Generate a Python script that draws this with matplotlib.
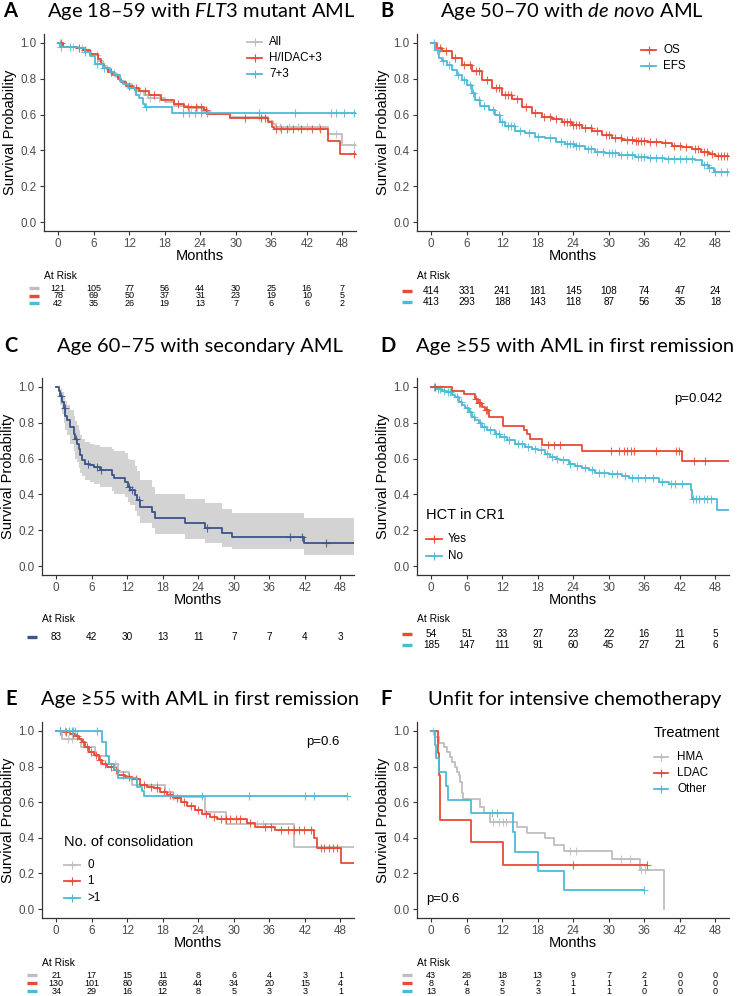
import numpy as np
import matplotlib
matplotlib.use('Agg')
import matplotlib.pyplot as plt
from matplotlib.lines import Line2D
from matplotlib import transforms

plt.rcParams['font.family'] = ['Liberation Sans', 'DejaVu Sans']
plt.rcParams['mathtext.fontset'] = 'custom'
plt.rcParams['mathtext.rm'] = 'Lato'
plt.rcParams['mathtext.it'] = 'Lato:italic'

RED = '#E64B35'
BLUE = '#4DBBD5'
GREY = '#BEBEBE'
NAVY = '#3C5488'

months = [0, 6, 12, 18, 24, 30, 36, 42, 48]

# ---- A: FLT3 mutant, age 18-59
a_all_t = [0, 0.8, 3.0, 4.5, 5.5, 6.8, 7.5, 8.2, 9.0, 9.8, 10.5, 11.2, 12.5, 13.5, 14.5, 15.2, 18.0, 19.5, 22.0, 24.5, 25.5, 29.0, 35.5, 36.2, 36.8, 45.5, 48.0]
a_all_s = [1.0, 0.98, 0.97, 0.955, 0.93, 0.90, 0.87, 0.85, 0.83, 0.81, 0.79, 0.77, 0.75, 0.73, 0.71, 0.69, 0.67, 0.65, 0.635, 0.62, 0.605, 0.585, 0.565, 0.545, 0.53, 0.49, 0.43]
a_all_c = [0.3, 2.5, 4.0, 6.5, 9.5, 12.8, 13.8, 15.5, 17.0, 21.0, 22.5, 23.5, 25.2, 34.0, 37.5, 39.0, 40.5, 42.0, 44.0, 47.0, 50.0]
a_hidac_t = [0, 0.84, 3.1, 4.2, 5.3, 6.7, 7.3, 7.8, 8.4, 9.2, 10.1, 10.6, 11.5, 12.6, 13.7, 15.4, 17.3, 19.6, 21.3, 24.6, 25.2, 29.1, 35.4, 36.1, 36.4, 45.5, 47.6]
a_hidac_s = [1.0, 0.98, 0.97, 0.96, 0.94, 0.91, 0.88, 0.86, 0.84, 0.82, 0.80, 0.78, 0.76, 0.75, 0.73, 0.71, 0.68, 0.66, 0.645, 0.626, 0.604, 0.583, 0.56, 0.533, 0.52, 0.45, 0.378]
a_hidac_c = [0.4, 3.5, 4.6, 9.0, 12.0, 13.2, 14.6, 16.2, 20.2, 22.0, 23.2, 24.2, 25.0, 31.5, 34.2, 35.0, 36.8, 37.6, 38.6, 39.6, 41.0, 42.8, 44.2, 50.0]
a_73_t = [0, 0.3, 3.3, 4.5, 5.3, 6.2, 7.6, 8.7, 9.5, 10.4, 10.9, 11.8, 12.9, 13.2, 13.7, 14.3, 14.6, 19.3]
a_73_s = [1.0, 0.98, 0.97, 0.95, 0.925, 0.88, 0.86, 0.84, 0.82, 0.79, 0.77, 0.75, 0.74, 0.71, 0.69, 0.66, 0.645, 0.61]
a_73_c = [0.4, 2.0, 4.6, 6.6, 7.8, 14.8, 21.0, 22.1, 23.1, 24.1, 25.2, 34.0, 40.0, 46.0, 47.0, 48.2, 50.0]
a_risk = [[121, 105, 77, 56, 44, 30, 25, 16, 7],
          [78, 69, 50, 37, 31, 23, 19, 10, 5],
          [42, 35, 26, 19, 13, 7, 6, 6, 2]]

# ---- B: de novo, age 50-70
b_os_t = [0, 0.96, 1.8, 3.5, 5.2, 6.9, 8.6, 10.3, 11.9, 13.6, 15.3, 17.0, 18.7, 20.4, 22.1, 23.8, 25.5, 27.2, 28.8, 30.5, 32.2, 34.5, 36.7, 39.0, 40.7, 42.4, 44.1, 45.5, 46.9, 48.0]
b_os_s = [1.0, 0.97, 0.953, 0.916, 0.879, 0.841, 0.794, 0.748, 0.71, 0.686, 0.645, 0.607, 0.589, 0.574, 0.561, 0.542, 0.523, 0.508, 0.486, 0.471, 0.458, 0.454, 0.449, 0.439, 0.424, 0.421, 0.406, 0.393, 0.379, 0.368]
b_os_c = [1.5, 2.5, 4.0, 5.5, 6.5, 7.5, 8.0, 9.5, 11.0, 11.5, 12.5, 13.0, 13.5, 14.5, 16.0, 17.5, 19.0, 20.0, 21.0, 22.5, 23.0, 23.5, 24.0, 24.5, 25.0, 26.0, 27.0, 28.0, 29.5, 30.0, 31.0, 32.0, 33.0, 34.0, 34.6, 35.0, 35.5, 36.0, 37.0, 38.0, 39.5, 41.0, 42.0, 43.0, 44.5, 45.0, 46.0, 46.5, 47.5, 48.5, 49.0, 49.5, 50.0]
b_efs_t = [0, 0.68, 1.24, 1.8, 2.65, 3.5, 4.34, 5.18, 6.03, 6.87, 7.44, 8.28, 9.69, 10.8, 11.7, 12.5, 14.2, 15.9, 17.6, 19.3, 21.0, 22.6, 24.3, 26.0, 27.7, 29.4, 31.7, 34.5, 36.7, 39.5, 44.6, 45.7, 46.9, 47.7]
b_efs_s = [1.0, 0.963, 0.916, 0.897, 0.879, 0.85, 0.822, 0.794, 0.766, 0.72, 0.682, 0.649, 0.626, 0.598, 0.561, 0.536, 0.508, 0.495, 0.477, 0.467, 0.449, 0.436, 0.424, 0.406, 0.393, 0.383, 0.374, 0.364, 0.355, 0.35, 0.346, 0.318, 0.299, 0.28]
b_efs_c = [0.5, 1.0, 2.0, 3.0, 4.5, 5.5, 6.5, 7.0, 8.0, 9.0, 10.5, 11.5, 12.0, 13.0, 13.5, 14.0, 15.0, 16.5, 18.0, 20.0, 22.0, 23.0, 23.5, 24.0, 24.5, 25.0, 26.5, 27.0, 28.0, 29.0, 30.0, 30.5, 31.0, 32.0, 33.0, 34.0, 35.0, 35.5, 36.0, 37.0, 38.0, 39.0, 40.0, 41.0, 42.0, 43.0, 44.0, 46.0, 46.5, 47.0, 48.0, 49.0, 50.0]
b_risk = [[414, 331, 241, 181, 145, 108, 74, 47, 24],
          [413, 293, 188, 143, 118, 87, 56, 35, 18]]

# ---- C: secondary AML, age 60-75
c_t = [0, 0.39, 0.68, 0.96, 1.24, 1.52, 1.8, 2.37, 2.93, 3.21, 3.49, 3.77, 4.06, 4.34, 4.9, 5.75, 6.3, 7.44, 9.4, 9.7, 11.66, 12.2, 12.5, 13.35, 13.6, 14.2, 16.2, 16.7, 21.8, 25.2, 28.0, 29.7, 41.8]
c_s = [1.0, 0.98, 0.95, 0.916, 0.88, 0.84, 0.814, 0.777, 0.74, 0.712, 0.684, 0.656, 0.619, 0.591, 0.572, 0.563, 0.554, 0.535, 0.51, 0.489, 0.47, 0.442, 0.424, 0.396, 0.368, 0.331, 0.303, 0.266, 0.238, 0.21, 0.186, 0.164, 0.13]
c_lo = [1.0, 0.95, 0.9, 0.85, 0.8, 0.76, 0.73, 0.68, 0.64, 0.6, 0.58, 0.55, 0.52, 0.5, 0.48, 0.47, 0.46, 0.44, 0.42, 0.405, 0.385, 0.36, 0.34, 0.31, 0.28, 0.24, 0.21, 0.18, 0.15, 0.126, 0.108, 0.093, 0.061]
c_hi = [1.0, 1.0, 0.99, 0.97, 0.95, 0.92, 0.9, 0.87, 0.84, 0.81, 0.79, 0.76, 0.73, 0.71, 0.69, 0.68, 0.675, 0.665, 0.655, 0.645, 0.63, 0.6, 0.59, 0.56, 0.53, 0.48, 0.44, 0.405, 0.377, 0.35, 0.32, 0.297, 0.27]
c_c = [0.85, 1.5, 3.3, 5.3, 6.9, 7.5, 12.3, 12.8, 13.9, 25.5, 39.5, 41.5, 45.5]
c_risk = [[83, 42, 30, 13, 11, 7, 7, 4, 3]]

# ---- D: first remission, HCT in CR1
d_yes_t = [0, 3.5, 5.6, 7.4, 7.9, 8.5, 9.1, 9.7, 12.2, 15.6, 16.2, 16.7, 18.7, 25.4, 42.3]
d_yes_s = [1.0, 0.98, 0.96, 0.935, 0.91, 0.89, 0.87, 0.83, 0.78, 0.76, 0.74, 0.71, 0.675, 0.645, 0.585]
d_yes_c = [0.7, 7.6, 8.0, 8.3, 9.2, 9.5, 19.7, 20.8, 21.7, 30.3, 31.7, 32.6, 33.1, 33.7, 34.3, 37.9, 41.3, 41.9, 44.4, 46.2]
d_no_t = [0, 0.96, 1.8, 2.65, 3.5, 4.06, 4.62, 5.18, 5.75, 6.3, 6.87, 7.44, 8.0, 8.56, 9.4, 10.8, 11.7, 12.8, 14.2, 15.9, 17.0, 18.1, 19.3, 20.1, 21.0, 21.8, 23.2, 24.3, 25.5, 26.6, 27.7, 30.0, 32.2, 33.4, 38.4, 40.1, 43.8, 44.1, 48.3]
d_no_s = [1.0, 0.99, 0.98, 0.97, 0.954, 0.944, 0.916, 0.898, 0.88, 0.86, 0.833, 0.814, 0.796, 0.777, 0.758, 0.74, 0.72, 0.703, 0.684, 0.665, 0.656, 0.647, 0.628, 0.61, 0.60, 0.591, 0.572, 0.558, 0.545, 0.535, 0.52, 0.513, 0.502, 0.489, 0.47, 0.457, 0.424, 0.377, 0.312]
d_no_c = [0.5, 1.2, 1.5, 2.2, 2.8, 3.2, 4.3, 5.0, 6.0, 6.6, 7.2, 8.2, 9.0, 10.0, 11.0, 11.4, 12.3, 13.2, 14.6, 15.3, 16.4, 17.5, 18.5, 19.6, 20.4, 21.3, 22.3, 23.5, 24.7, 26.0, 27.1, 28.4, 29.2, 30.5, 31.4, 32.8, 34.0, 35.0, 36.1, 37.5, 39.0, 40.5, 41.2, 42.4, 44.3, 44.7, 45.3, 46.0, 46.5, 47.2]
d_risk = [[54, 51, 33, 27, 23, 22, 16, 11, 5],
          [185, 147, 111, 91, 60, 45, 27, 21, 6]]

# ---- E: first remission, number of consolidations
e0_t = [0, 1.0, 4.2, 6.6, 8.9, 10.5, 12.3, 12.8, 18.4, 19.8, 25.2, 28.6, 40.1]
e0_s = [1.0, 0.955, 0.91, 0.86, 0.815, 0.77, 0.74, 0.695, 0.655, 0.63, 0.545, 0.475, 0.35]
e0_c = [2.0, 2.6, 10.0, 17.0, 19.0, 34.0, 35.0]
e1_t = [0, 1.24, 2.37, 3.2, 3.8, 4.3, 4.9, 5.5, 6.3, 7.15, 7.7, 8.6, 9.7, 10.5, 11.7, 12.8, 14.2, 15.3, 16.5, 17.6, 18.7, 19.8, 21.0, 22.1, 23.5, 24.6, 26.0, 27.2, 32.2, 33.6, 37.0, 43.5, 44.1, 48.1]
e1_s = [1.0, 0.995, 0.985, 0.97, 0.957, 0.94, 0.907, 0.882, 0.864, 0.836, 0.813, 0.795, 0.78, 0.752, 0.739, 0.728, 0.696, 0.687, 0.677, 0.659, 0.64, 0.621, 0.603, 0.578, 0.556, 0.534, 0.519, 0.504, 0.481, 0.463, 0.444, 0.397, 0.341, 0.257]
e1_c = [0.6, 1.6, 2.8, 3.5, 4.6, 5.2, 5.9, 6.8, 7.4, 8.2, 9.2, 10.1, 11.2, 12.3, 13.5, 14.8, 16.0, 17.1, 18.2, 19.3, 20.4, 21.6, 22.7, 24.0, 25.3, 26.6, 27.8, 28.6, 29.4, 30.3, 31.1, 32.8, 35.2, 36.3, 38.0, 39.2, 40.1, 41.0, 41.8, 43.0, 44.8, 45.3, 46.0, 46.8, 47.5]
e2_t = [0, 7.7, 8.45, 8.85, 9.7, 10.5, 13.6, 14.5, 14.9]
e2_s = [1.0, 0.94, 0.86, 0.817, 0.78, 0.733, 0.687, 0.66, 0.633]
e2_c = [0.7, 1.5, 2.1, 2.6, 2.9, 3.2, 6.9, 19.8, 24.6, 32.5, 42.0, 43.5, 49.1]
e_risk = [[21, 17, 15, 11, 8, 6, 4, 3, 1],
          [130, 101, 80, 68, 44, 34, 20, 15, 4],
          [34, 29, 16, 12, 8, 5, 3, 3, 1]]

# ---- F: unfit for intensive chemotherapy
f_hma_t = [0, 0.68, 1.24, 2.1, 2.65, 3.2, 3.5, 4.06, 4.34, 4.62, 4.9, 5.18, 5.3, 8.3, 8.85, 10.0, 14.5, 16.2, 19.3, 20.7, 22.4, 30.5, 35.3, 39.3]
f_hma_s = [1.0, 0.966, 0.933, 0.907, 0.882, 0.854, 0.826, 0.799, 0.77, 0.75, 0.715, 0.65, 0.616, 0.575, 0.537, 0.49, 0.463, 0.425, 0.397, 0.36, 0.328, 0.28, 0.22, 0.0]
f_hma_c = [0.3, 10.5, 11.5, 12.2, 12.7, 23.5, 24.5, 32.0, 33.5, 35.5, 36.1]
f_ldac_t = [0, 1.07, 1.35, 1.52, 6.76, 12.2]
f_ldac_s = [1.0, 0.875, 0.75, 0.5, 0.375, 0.25]
f_ldac_c = [23.9, 36.5]
f_oth_t = [0, 0.56, 0.85, 1.35, 2.5, 2.8, 6.7, 13.75, 14.1, 18.1, 22.5]
f_oth_s = [1.0, 0.923, 0.846, 0.77, 0.69, 0.615, 0.538, 0.431, 0.32, 0.215, 0.108]
f_oth_c = [10.25, 11.1, 35.9]
f_risk = [[43, 26, 18, 13, 9, 7, 2, 0, 0],
          [8, 4, 3, 2, 1, 1, 1, 0, 0],
          [13, 8, 5, 3, 1, 1, 0, 0, 0]]

W, H = 750, 996
fig = plt.figure(figsize=(W / 100, H / 100), dpi=100)
TXT = '#4D4D4D'


def fy(y):
    return 1 - y / H


def make_ax(left, top, bottom):
    ax = fig.add_axes([left / W, fy(bottom), 312 / W, (bottom - top) / H])
    ax.set_xlim(-2.4, 50.3)
    ax.set_ylim(-0.05, 1.05)
    ax.set_xticks(months)
    ax.set_yticks([0, 0.2, 0.4, 0.6, 0.8, 1.0])
    ax.set_yticklabels(['0.0', '0.2', '0.4', '0.6', '0.8', '1.0'])
    for side in ['top', 'right']:
        ax.spines[side].set_visible(False)
    for side in ['left', 'bottom']:
        ax.spines[side].set_color('#333333')
        ax.spines[side].set_linewidth(0.9)
    ax.tick_params(length=3, width=0.8, color='#333333', labelcolor=TXT,
                   labelsize=8.4, pad=2.2)
    ax.patch.set_alpha(0)
    cx = left + 156
    fig.text(cx / W, fy(bottom + 25), 'Months', ha='center', va='center', fontsize=10.5)
    fig.text((left - 34) / W, fy((top + bottom) / 2), 'Survival Probability',
             ha='center', va='center', rotation=90, fontsize=10.5)
    return ax


def km(ax, t, s, cens, color, end=50.3, z=2):
    t = np.asarray(t, float)
    s = np.asarray(s, float)
    ax.step(np.append(t, end), np.append(s, s[-1]), where='post',
            color=color, lw=1.3, zorder=z)
    c = np.asarray(cens, float)
    cs = s[np.searchsorted(t, c, side='right') - 1]
    ax.plot(c, cs, '+', color=color, ms=6, mew=0.8, alpha=0.85, zorder=z)


def title(letter, lx, cx, base, text):
    fig.text(lx / W, fy(base), letter, ha='left', va='baseline', fontsize=14.5,
             fontweight='bold', family=['Lato', 'DejaVu Sans'])
    fig.text(cx / W, fy(base), text, ha='center', va='baseline', fontsize=14.5,
             family=['Lato', 'DejaVu Sans'])


def legend(x0, x1, xt, ys, colors, labels, head=None, head_y=None):
    if head:
        fig.text(x0 / W, fy(head_y), head, ha='left', va='center', fontsize=10.5)
    for y, col, lab in zip(ys, colors, labels):
        fig.add_artist(Line2D([x0 / W, x1 / W], [fy(y), fy(y)], color=col, lw=1.3))
        fig.add_artist(Line2D([(x0 + x1) / 2 / W], [fy(y)], marker='+', color=col,
                              ms=6, mew=0.8))
        fig.text(xt / W, fy(y), lab, ha='left', va='center', fontsize=8.4)


def risk(ax, left, head_y, ys, rows, colors, fs=6.5):
    tr = transforms.blended_transform_factory(ax.transData, fig.transFigure)
    fig.text(left / W, fy(head_y), 'At Risk', ha='left', va='center', fontsize=7.4)
    for y, row, col in zip(ys, rows, colors):
        fig.add_artist(Line2D([(left - 15) / W, (left - 5) / W], [fy(y), fy(y)],
                              color=col, lw=2.4, solid_capstyle='butt'))
        for m, n in zip(months, row):
            ax.text(m, fy(y), str(n), transform=tr, ha='center', va='center', fontsize=fs)


# A
ax = make_ax(44, 34, 231)
title('A', 3, 201, 17, 'Age 18\u201359 with $\\mathit{FLT3}$ mutant AML')
km(ax, a_all_t, a_all_s, a_all_c, GREY, z=1)
km(ax, a_hidac_t, a_hidac_s, a_hidac_c, RED, z=2)
km(ax, a_73_t, a_73_s, a_73_c, BLUE, z=3)
legend(247, 262, 269, [42, 58, 74], [GREY, RED, BLUE], ['All', 'H/IDAC+3', '7+3'])
risk(ax, 44, 276, [288, 295.5, 303], a_risk, [GREY, RED, BLUE])

# B
ax = make_ax(417, 34, 231)
title('B', 380, 572, 17, 'Age 50\u201370 with $\\mathit{de}$ $\\mathit{novo}$ AML')
km(ax, b_os_t, b_os_s, b_os_c, RED)
km(ax, b_efs_t, b_efs_s, b_efs_c, BLUE)
legend(641, 656, 663, [50, 66], [RED, BLUE], ['OS', 'EFS'])
risk(ax, 417, 276, [291, 302], b_risk, [RED, BLUE], fs=7.2)

# C
ax = make_ax(42, 378, 575)
title('C', 4, 200, 352, 'Age 60\u201375 with secondary AML')
ax.fill_between(c_t + [50.3], c_lo + [c_lo[-1]], c_hi + [c_hi[-1]], step='post',
                color='#D3D3D3', lw=0, zorder=0)
km(ax, c_t, c_s, c_c, NAVY)
risk(ax, 42, 619, [637], c_risk, [NAVY], fs=7.2)

# D
ax = make_ax(417, 378, 575)
title('D', 380, 575, 352, 'Age \u226555 with AML in first remission')
km(ax, d_no_t, d_no_s, d_no_c, BLUE)
km(ax, d_yes_t, d_yes_s, d_yes_c, RED)
fig.text(698 / W, fy(399), 'p=0.042', ha='center', va='center', fontsize=9.5)
legend(426, 442, 448, [539, 556], [RED, BLUE], ['Yes', 'No'], 'HCT in CR1', 515)
risk(ax, 417, 619, [634, 645], d_risk, [RED, BLUE], fs=7.2)

# E
ax = make_ax(42, 722, 918)
title('E', 5, 200, 705, 'Age \u226555 with AML in first remission')
km(ax, e0_t, e0_s, e0_c, GREY, z=1)
km(ax, e1_t, e1_s, e1_c, RED, z=2)
km(ax, e2_t, e2_s, e2_c, BLUE, end=49.1, z=3)
fig.text(323 / W, fy(742), 'p=0.6', ha='center', va='center', fontsize=9.5)
legend(64, 80, 87, [865, 881, 898], [GREY, RED, BLUE], ['0', '1', '>1'],
       'No. of consolidation', 842)
risk(ax, 42, 963, [975, 983, 991], e_risk, [GREY, RED, BLUE])

# F
ax = make_ax(417, 722, 918)
title('F', 380, 575, 705, 'Unfit for intensive chemotherapy')
km(ax, f_hma_t, f_hma_s, f_hma_c, GREY, end=39.3, z=1)
km(ax, f_ldac_t, f_ldac_s, f_ldac_c, RED, end=36.5, z=2)
km(ax, f_oth_t, f_oth_s, f_oth_c, BLUE, end=35.9, z=3)
fig.text(426 / W, fy(899), 'p=0.6', ha='left', va='center', fontsize=9.5)
legend(654, 668, 677, [757, 773, 789], [GREY, RED, BLUE], ['HMA', 'LDAC', 'Other'],
       'Treatment', 733)
risk(ax, 417, 963, [975, 983, 991], f_risk, [GREY, RED, BLUE])

fig.savefig('out.png', dpi=100)
